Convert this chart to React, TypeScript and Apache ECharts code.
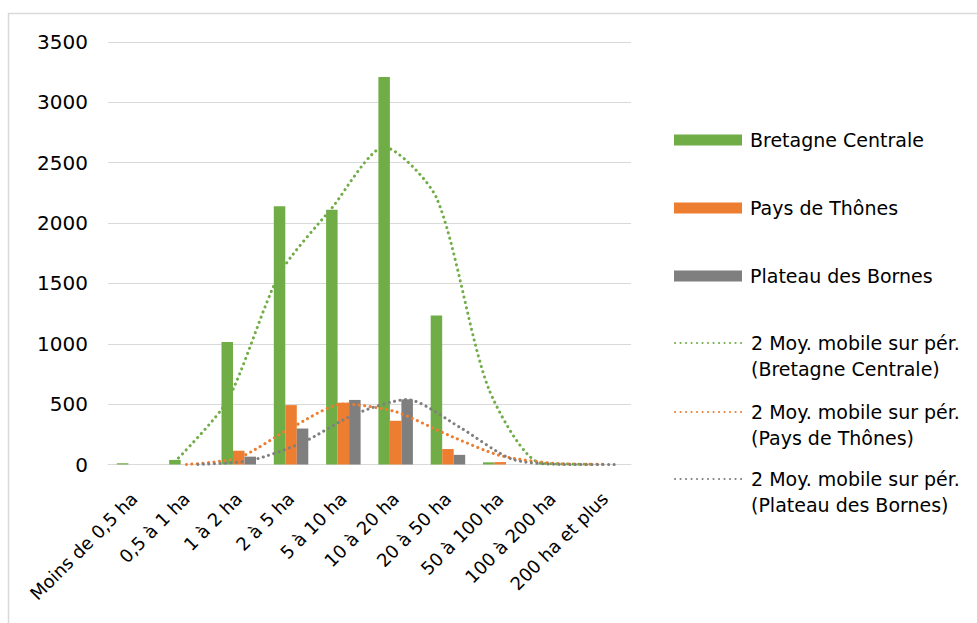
import React, { useEffect, useRef } from 'react';
import * as echarts from 'echarts';

const categories = [
  'Moins de 0,5 ha',
  '0,5 à 1 ha',
  '1 à 2 ha',
  '2 à 5 ha',
  '5 à 10 ha',
  '10 à 20 ha',
  '20 à 50 ha',
  '50 à 100 ha',
  '100 à 200 ha',
  '200 ha et plus',
];

const bretagne = [10, 38, 1015, 2140, 2110, 3210, 1235, 18, 3, 1];
const thones = [0, 0, 114, 492, 512, 362, 128, 20, 2, 0];
const bornes = [0, 0, 65, 298, 535, 540, 80, 0, 0, 0];

// 2-period moving averages
const maBretagne = [null, 24, 527, 1578, 2125, 2630, 2210, 627, 11, 2];
const maThones = [null, 0, 57, 303, 502, 437, 245, 74, 11, 1];
const maBornes = [null, 0, 33, 182, 417, 538, 310, 45, 0, 0];

const yTicks = { min: 0, max: 3500, interval: 500 };

const names = {
  bc: 'Bretagne Centrale',
  pt: 'Pays de Thônes',
  pb: 'Plateau des Bornes',
  mbc: '2 Moy. mobile sur pér.\n(Bretagne Centrale)',
  mpt: '2 Moy. mobile sur pér.\n(Pays de Thônes)',
  mpb: '2 Moy. mobile sur pér.\n(Plateau des Bornes)',
};

const GREEN = '#70ad47';
const ORANGE = '#ed7d31';
const GRAY = '#7f7f7f';
const FONT = 'DejaVu Sans';
const BAR_OFFSET = 0.22;

function pts(arr: (number | null)[], off: number) {
  const out: [number, number][] = [];
  arr.forEach((v, i) => {
    if (v !== null) out.push([i + off, v]);
  });
  return out;
}

export default function App() {
  const ref = useRef<HTMLDivElement>(null);
  useEffect(() => {
    const chart = echarts.init(ref.current!, null, { renderer: 'svg' });
    const legendBase = {
      orient: 'vertical',
      left: 674,
      padding: 0,
      itemWidth: 68,
      itemHeight: 11,
      selectedMode: false,
    };
    const legendText = { fontFamily: FONT, fontSize: 19, color: '#000', lineHeight: 26, padding: [0, 0, 0, 3] };
    const dotted = (color: string) => ({
      color,
      width: 3,
      type: [0.1, 5.4],
      cap: 'round',
    });
    const lineSeries = (name: string, arr: (number | null)[], off: number, color: string) => ({
      name,
      type: 'line',
      xAxisIndex: 1,
      data: pts(arr, off),
      smooth: 0.25,
      symbol: 'none',
      color,
      lineStyle: dotted(color),
      z: 5,
    });
    const lineLegend = (top: number, name: string) => ({
      ...legendBase,
      top,
      data: [name],
      textStyle: legendText,
      itemStyle: { opacity: 0 },
      formatter: (n: string) => '\n' + n,
    });
    chart.setOption({
      animation: false,
      backgroundColor: '#fff',
      grid: { left: 108, right: 346, top: 42, bottom: 158.5, containLabel: false },
      legend: [
        { ...legendBase, top: 127, data: [{ name: names.bc, icon: 'rect' }], textStyle: legendText },
        { ...legendBase, top: 195, data: [{ name: names.pt, icon: 'rect' }], textStyle: legendText },
        { ...legendBase, top: 263, data: [{ name: names.pb, icon: 'rect' }], textStyle: legendText },
        lineLegend(304, names.mbc),
        lineLegend(373, names.mpt),
        lineLegend(440, names.mpb),
      ],
      xAxis: [
        {
          type: 'category',
          data: categories,
          axisTick: { show: false },
          axisLine: { lineStyle: { color: '#d9d9d9', width: 1 } },
          axisLabel: {
            rotate: 45,
            interval: 0,
            margin: 31,
            fontFamily: FONT,
            fontSize: 18,
            color: '#000',
          },
        },
        {
          type: 'value',
          min: -0.5,
          max: 9.5,
          show: false,
        },
      ],
      yAxis: {
        type: 'value',
        ...yTicks,
        axisLine: { show: false },
        axisTick: { show: false },
        splitLine: { lineStyle: { color: '#d9d9d9', width: 1 } },
        axisLabel: {
          fontFamily: FONT,
          fontSize: 20,
          color: '#000',
          margin: 20,
          formatter: (v: number) => String(v),
        },
      },
      graphic: [
        { type: 'line', shape: { x1: 8, y1: 13.5, x2: 977, y2: 13.5 }, style: { stroke: '#d9d9d9', lineWidth: 1.5 }, silent: true },
        { type: 'line', shape: { x1: 8.5, y1: 13, x2: 8.5, y2: 623 }, style: { stroke: '#d9d9d9', lineWidth: 1.5 }, silent: true },
      ],
      series: [
        { name: names.bc, type: 'bar', data: bretagne, color: GREEN, barGap: '0%', barCategoryGap: '34%' },
        { name: names.pt, type: 'bar', data: thones, color: ORANGE, barGap: '0%', barCategoryGap: '34%' },
        { name: names.pb, type: 'bar', data: bornes, color: GRAY, barGap: '0%', barCategoryGap: '34%' },
        lineSeries(names.mbc, maBretagne, -BAR_OFFSET, GREEN),
        lineSeries(names.mpt, maThones, 0, ORANGE),
        lineSeries(names.mpb, maBornes, BAR_OFFSET, GRAY),
      ],
    });
    return () => chart.dispose();
  }, []);
  return (
    <div
      ref={ref}
      style={{ position: 'fixed', left: 0, top: 0, width: 977, height: 623, background: '#fff' }}
    />
  );
}
